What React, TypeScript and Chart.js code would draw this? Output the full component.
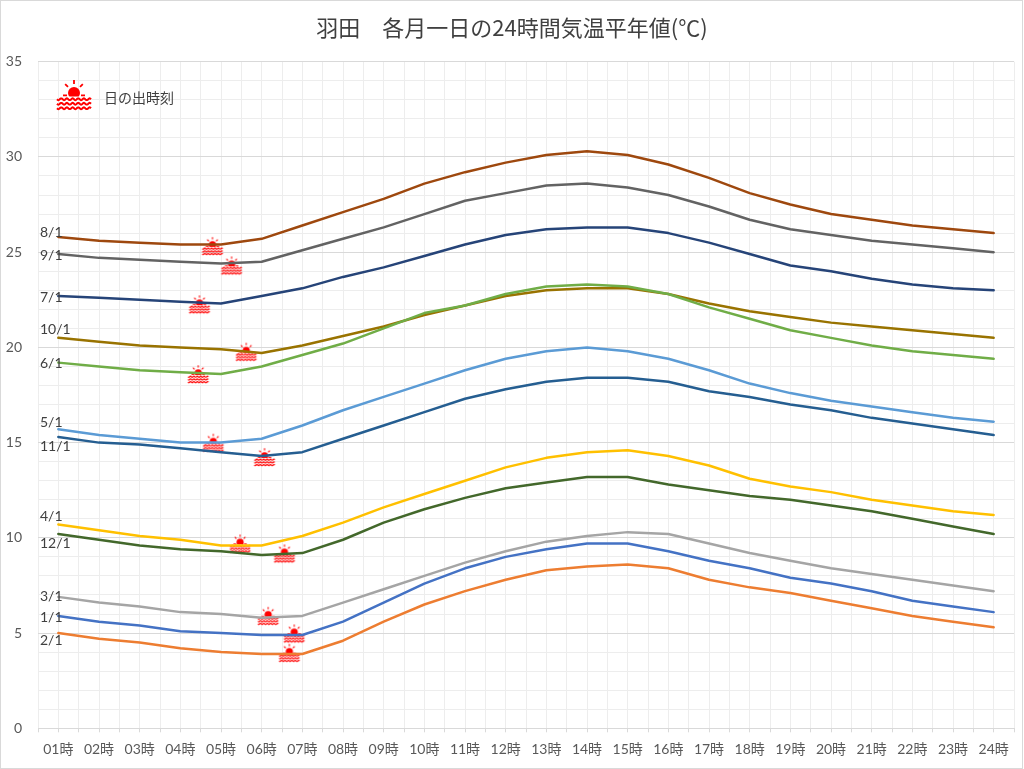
import React, { useEffect, useRef } from "react";
import { Chart, registerables } from "chart.js";

Chart.register(...registerables);

// ---------- data ----------
const HOURS = [1, 2, 3, 4, 5, 6, 7, 8, 9, 10, 11, 12, 13, 14, 15, 16, 17, 18, 19, 20, 21, 22, 23, 24];
const HOUR_LABELS = ["01時", "02時", "03時", "04時", "05時", "06時", "07時", "08時", "09時", "10時", "11時", "12時",
  "13時", "14時", "15時", "16時", "17時", "18時", "19時", "20時", "21時", "22時", "23時", "24時"];
const MONTH_LABELS = ["1/1", "2/1", "3/1", "4/1", "5/1", "6/1", "7/1", "8/1", "9/1", "10/1", "11/1", "12/1"];

const JAN = [5.9, 5.6, 5.4, 5.1, 5.0, 4.9, 4.9, 5.6, 6.6, 7.6, 8.4, 9.0, 9.4, 9.7, 9.7, 9.3, 8.8, 8.4, 7.9, 7.6, 7.2, 6.7, 6.4, 6.1];
const FEB = [5.0, 4.7, 4.5, 4.2, 4.0, 3.9, 3.9, 4.6, 5.6, 6.5, 7.2, 7.8, 8.3, 8.5, 8.6, 8.4, 7.8, 7.4, 7.1, 6.7, 6.3, 5.9, 5.6, 5.3];
const MAR = [6.9, 6.6, 6.4, 6.1, 6.0, 5.8, 5.9, 6.6, 7.3, 8.0, 8.7, 9.3, 9.8, 10.1, 10.3, 10.2, 9.7, 9.2, 8.8, 8.4, 8.1, 7.8, 7.5, 7.2];
const APR = [10.7, 10.4, 10.1, 9.9, 9.6, 9.6, 10.1, 10.8, 11.6, 12.3, 13.0, 13.7, 14.2, 14.5, 14.6, 14.3, 13.8, 13.1, 12.7, 12.4, 12.0, 11.7, 11.4, 11.2];
const MAY = [15.7, 15.4, 15.2, 15.0, 15.0, 15.2, 15.9, 16.7, 17.4, 18.1, 18.8, 19.4, 19.8, 20.0, 19.8, 19.4, 18.8, 18.1, 17.6, 17.2, 16.9, 16.6, 16.3, 16.1];
const JUN = [19.2, 19.0, 18.8, 18.7, 18.6, 19.0, 19.6, 20.2, 21.0, 21.8, 22.2, 22.8, 23.2, 23.3, 23.2, 22.8, 22.1, 21.5, 20.9, 20.5, 20.1, 19.8, 19.6, 19.4];
const JUL = [22.7, 22.6, 22.5, 22.4, 22.3, 22.7, 23.1, 23.7, 24.2, 24.8, 25.4, 25.9, 26.2, 26.3, 26.3, 26.0, 25.5, 24.9, 24.3, 24.0, 23.6, 23.3, 23.1, 23.0];
const AUG = [25.8, 25.6, 25.5, 25.4, 25.4, 25.7, 26.4, 27.1, 27.8, 28.6, 29.2, 29.7, 30.1, 30.3, 30.1, 29.6, 28.9, 28.1, 27.5, 27.0, 26.7, 26.4, 26.2, 26.0];
const SEP = [24.9, 24.7, 24.6, 24.5, 24.4, 24.5, 25.1, 25.7, 26.3, 27.0, 27.7, 28.1, 28.5, 28.6, 28.4, 28.0, 27.4, 26.7, 26.2, 25.9, 25.6, 25.4, 25.2, 25.0];
const OCT = [20.5, 20.3, 20.1, 20.0, 19.9, 19.7, 20.1, 20.6, 21.1, 21.7, 22.2, 22.7, 23.0, 23.1, 23.1, 22.8, 22.3, 21.9, 21.6, 21.3, 21.1, 20.9, 20.7, 20.5];
const NOV = [15.3, 15.0, 14.9, 14.7, 14.5, 14.3, 14.5, 15.2, 15.9, 16.6, 17.3, 17.8, 18.2, 18.4, 18.4, 18.2, 17.7, 17.4, 17.0, 16.7, 16.3, 16.0, 15.7, 15.4];
const DEC = [10.2, 9.9, 9.6, 9.4, 9.3, 9.1, 9.2, 9.9, 10.8, 11.5, 12.1, 12.6, 12.9, 13.2, 13.2, 12.8, 12.5, 12.2, 12.0, 11.7, 11.4, 11.0, 10.6, 10.2];

// sunrise hour (decimal) and temperature at sunrise for each month
const SUNRISE_HOUR = [6.8, 6.68, 6.16, 5.47, 4.81, 4.44, 4.47, 4.79, 5.26, 5.62, 6.07, 6.56];
const SUNRISE_TEMP = [4.99, 3.97, 5.91, 9.71, 15.0, 18.6, 22.27, 25.33, 24.31, 19.78, 14.25, 9.19];

const Y_TICK_MIN = 0;
const Y_TICK_MAX = 35;

const TITLE = "羽田　各月一日の24時間気温平年値(℃)";
const LEGEND_TEXT = "日の出時刻";

// ---------- styles ----------
const SERIES = [JAN, FEB, MAR, APR, MAY, JUN, JUL, AUG, SEP, OCT, NOV, DEC];
const COLORS = ["#4472C4", "#ED7D31", "#A5A5A5", "#FFC000", "#5B9BD5", "#70AD47",
  "#264478", "#9E480E", "#636363", "#997300", "#255E91", "#43682B"];
// vertical pixel nudge of each month label relative to its first point
const LABEL_NUDGE = [1.3, 7.4, -0.6, -7.6, -6.6, 1.3, 1.3, -4.3, 1.7, -8.3, 9.3, 9.0];
const FONT = 'Lato, "Noto Sans CJK JP", sans-serif';
const JP_FONT = '"Noto Sans CJK JP", sans-serif';
const SUN_RED = "#FF0000";

function drawSunIcon(ctx: CanvasRenderingContext2D, cx: number, cy: number, k: number) {
  const H = cy + 1.75 * k;
  ctx.save();
  ctx.fillStyle = SUN_RED;
  ctx.strokeStyle = SUN_RED;
  // disk
  ctx.save();
  ctx.beginPath();
  ctx.rect(cx - 20 * k, H - 30 * k, 40 * k, 30 * k);
  ctx.clip();
  ctx.beginPath();
  ctx.arc(cx, H - 3.5 * k, 6 * k, 0, Math.PI * 2);
  ctx.fill();
  ctx.restore();
  // rays
  ctx.lineWidth = 1.8 * k;
  const sy = H - 3.5 * k;
  const rays: [number, number, number][] = [[-90, 9, 13], [-135, 8.5, 12.5], [-45, 8.5, 12.5]];
  ctx.beginPath();
  for (const [a, r0, r1] of rays) {
    const rad = (a * Math.PI) / 180;
    ctx.moveTo(cx + Math.cos(rad) * r0 * k, sy + Math.sin(rad) * r0 * k);
    ctx.lineTo(cx + Math.cos(rad) * r1 * k, sy + Math.sin(rad) * r1 * k);
  }
  ctx.moveTo(cx - 11 * k, H - 1 * k);
  ctx.lineTo(cx - 7 * k, H - 1 * k);
  ctx.moveTo(cx + 7 * k, H - 1 * k);
  ctx.lineTo(cx + 11 * k, H - 1 * k);
  ctx.stroke();
  // waves
  ctx.lineWidth = 2 * k;
  for (const dy of [2.8, 7.3, 11.8]) {
    ctx.beginPath();
    for (let t = 0; t <= 34; t += 0.5) {
      const x = cx - 17 * k + t * k;
      const y = H + dy * k + Math.sin((t / 34) * 6 * 2 * Math.PI) * 0.9 * k;
      if (t === 0) ctx.moveTo(x, y);
      else ctx.lineTo(x, y);
    }
    ctx.stroke();
  }
  ctx.restore();
}

function makeSunImage(k: number): HTMLCanvasElement {
  const c = document.createElement("canvas");
  c.width = Math.ceil(36 * k) + 4;
  c.height = Math.ceil(32 * k) + 4;
  const ctx = c.getContext("2d")!;
  drawSunIcon(ctx, c.width / 2, c.height / 2, k);
  return c;
}

const decorPlugin = {
  id: "decor",
  beforeDraw(chart: any) {
    const { ctx, width, height } = chart;
    ctx.save();
    ctx.fillStyle = "#FFFFFF";
    ctx.fillRect(0, 0, width, height);
    ctx.strokeStyle = "#D9D9D9";
    ctx.lineWidth = 1;
    ctx.strokeRect(0.5, 0.5, width - 2, height - 1);
    ctx.restore();
  },
  afterDatasetsDraw(chart: any) {
    const { ctx, chartArea, scales } = chart;
    const y = scales.y;
    ctx.save();
    // month labels at the start of each line
    ctx.font = `14px ${FONT}`;
    ctx.fillStyle = "#404040";
    ctx.textAlign = "left";
    ctx.textBaseline = "middle";
    SERIES.forEach((s, i) => {
      const py = y.getPixelForValue(s[0]) + LABEL_NUDGE[i];
      ctx.fillText(MONTH_LABELS[i], chartArea.left + 2, py);
    });
    // legend
    drawSunIcon(ctx, chartArea.left + 36, chartArea.top + 33, 1);
    ctx.font = `14px ${JP_FONT}`;
    ctx.fillStyle = "#404040";
    ctx.fillText(LEGEND_TEXT, chartArea.left + 66, chartArea.top + 35.5);
    // title
    ctx.font = `22px ${JP_FONT}`;
    ctx.fillStyle = "#404040";
    ctx.textAlign = "center";
    ctx.fillText(TITLE, chart.width / 2, 27.5);
    ctx.restore();
  },
};

export default function App() {
  const canvasRef = useRef<HTMLCanvasElement | null>(null);

  useEffect(() => {
    document.body.style.margin = "0";
    const canvas = canvasRef.current;
    if (!canvas) return;
    const sunImg = makeSunImage(0.6);

    const lineSets = SERIES.map((s, i) => ({
      type: "line" as const,
      label: MONTH_LABELS[i],
      data: s.map((v, j) => ({ x: HOURS[j], y: v })),
      borderColor: COLORS[i],
      backgroundColor: COLORS[i],
      borderWidth: 2.5,
      pointRadius: 0,
      tension: 0,
      borderJoinStyle: "round" as const,
      borderCapStyle: "round" as const,
      fill: false,
    }));

    const sunSet = {
      type: "line" as const,
      label: LEGEND_TEXT,
      data: SUNRISE_HOUR.map((h, i) => ({ x: h, y: SUNRISE_TEMP[i] })),
      showLine: false,
      pointStyle: sunImg,
      pointRadius: 8,
      borderColor: SUN_RED,
      backgroundColor: SUN_RED,
    };

    const chart = new Chart(canvas, {
      type: "line",
      data: { datasets: [...lineSets, sunSet] as any },
      options: {
        animation: false,
        responsive: true,
        maintainAspectRatio: false,
        events: [],
        layout: { padding: { left: 0, right: 10, top: 61.7, bottom: 0 } },
        plugins: {
          legend: { display: false },
          title: { display: false },
          tooltip: { enabled: false },
        },
        scales: {
          x: {
            type: "linear",
            min: 0.5,
            max: 24.5,
            afterFit: (s: any) => {
              s.height = 40.7;
            },
            ticks: {
              stepSize: 0.5,
              autoSkip: false,
              maxRotation: 0,
              minRotation: 0,
              padding: 9,
              color: "#595959",
              font: { family: FONT, size: 14 },
              callback: (v: any) => {
                const n = Number(v);
                return Number.isInteger(n) && n >= 1 && n <= 24 ? HOUR_LABELS[n - 1] : "";
              },
            },
            grid: {
              color: "#EDEDED",
              lineWidth: 1,
              drawTicks: true,
              tickLength: 4,
              tickColor: "#D9D9D9",
            },
            border: { display: true, color: "#D9D9D9", width: 1 },
          },
          y: {
            type: "linear",
            min: Y_TICK_MIN,
            max: Y_TICK_MAX,
            afterFit: (s: any) => {
              s.width = 38;
            },
            ticks: {
              stepSize: 1,
              autoSkip: false,
              padding: 16,
              color: "#595959",
              font: { family: FONT, size: 14 },
              callback: (v: any) => (Number(v) % 5 === 0 ? String(v) : ""),
            },
            grid: {
              color: (c: any) => (c.tick && c.tick.value % 5 === 0 ? "#D9D9D9" : "#EDEDED"),
              lineWidth: 1,
              drawTicks: false,
            },
            border: { display: false },
          },
        },
      },
      plugins: [decorPlugin],
    });

    return () => {
      chart.destroy();
    };
  }, []);

  return (
    <div style={{ width: 1024, height: 769, position: "relative" }}>
      <canvas ref={canvasRef} />
    </div>
  );
}
